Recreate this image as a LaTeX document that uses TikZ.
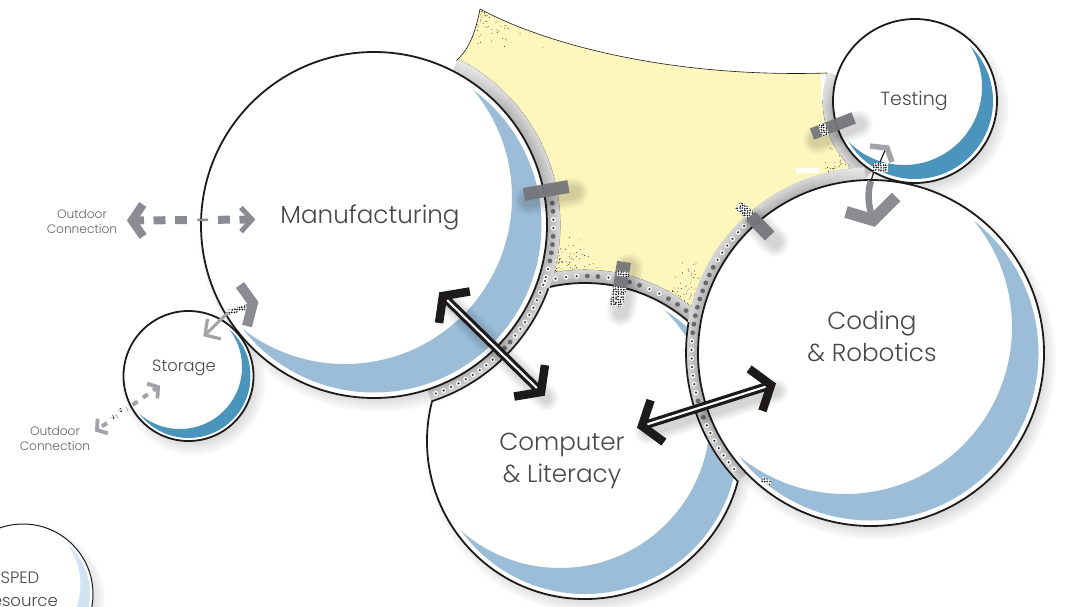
\documentclass[tikz,border=0pt]{standalone}
\usepackage{fontspec}
\setmainfont{Poppins}[UprightFont=* Light]
\usetikzlibrary{calc}
\definecolor{ink}{HTML}{1D1A1A}
\definecolor{labelc}{HTML}{484848}
\definecolor{yellowz}{HTML}{FDF6BD}
\definecolor{paleblue}{HTML}{9BBDD8}
\definecolor{deepblue}{HTML}{4B94BB}
\definecolor{iceblue}{HTML}{CFE3F3}
\definecolor{doorc}{HTML}{77777B}
\definecolor{arrowc}{HTML}{8B8C91}
\definecolor{arrowl}{HTML}{A3A3A7}
\definecolor{dotc}{HTML}{68686C}
\tikzset{
  room/.style={circle,draw=ink,line width=1.8pt,inner sep=0pt,outer sep=0pt,fill=none},
  doorline/.style={doorc,line width=13pt,opacity=.95},
  dbl/.style={ink,line width=3.2pt,double=white,double distance=2.1pt},
  chevink/.style={ink,line width=8.5pt,miter limit=10},
  chevgray/.style={arrowc,line width=8.5pt,miter limit=10},
  roomlabel/.style={text=labelc,font=\fontsize{24.6}{32}\selectfont,align=center,inner sep=0pt},
  tinylabel/.style={text=labelc!85,font=\fontsize{12.2}{15}\selectfont,align=center,inner sep=0pt},
}
\newcommand\softdisc[3]{\foreach \k in {1,...,9}{\fill[black,opacity=.014] (#1+5,#2+7) circle[radius=#3+\k*1.6-7];}}
\newcommand\softseg[3]{\foreach \k in {1,...,6}{\draw[black,opacity=.028,line width=#3+\k*3.2pt,line cap=round] ([shift={(5,6)}]#1) -- ([shift={(5,6)}]#2);}}
\newcommand\crescent[7]{\begin{scope}\clip (#1,#2) circle[radius=#3];\fill[#7,even odd rule] (-100,-100) rectangle (1200,800) (#4,#5) circle[radius=#6];\end{scope}}
% cx cy r-in r-out a1 a2
\newcommand\bandarc[6]{\foreach \k in {0,...,7}{
  \pgfmathsetmacro\rr{#3+(#4-#3)*(\k+.5)/8}
  \pgfmathsetmacro\gv{31-\k*2.1}
  \draw[line width=(#4-#3)/8+.5,draw=black!\gv] ($(#1,#2)+(#5:\rr)$) arc[start angle=#5,end angle=#6,radius=\rr];}}
\newcommand\bandfade[6]{\foreach \d in {3,6,...,18}{
  \pgfmathsetmacro\rr{(#3+#4)/2}
  \draw[white,opacity=.1,line width=(#4-#3)+.5] ($(#1,#2)+(#5:\rr)$) arc[start angle=#5,end angle=#5+#6*\d,radius=\rr];}}
\newcommand\edgearc[5]{\draw[ink,line width=1.7pt] ($(#1,#2)+(#4:#3)$) arc[start angle=#4,end angle=#5,radius=#3];}
\newcommand\dotmarks{\fill[dotc] (d) circle[radius=2.4];}
\newcommand\dotmarkw{\fill[white] (d) circle[radius=2.5];\fill[ink!85] (d) circle[radius=1.25];}
\newcommand\dotrow[6]{\foreach \t [count=\i from 0] in {#6}{
  \pgfmathsetmacro\ang{#4+\i*#5}
  \coordinate (d) at ($(#1,#2)+(\ang:#3)$);
  \csname dotmark\t\endcsname}}
\newcommand\chkseg[3]{\begin{scope}
  \clip ($(#1)!#3!90:(#2)$) -- ($(#1)!#3!-90:(#2)$) -- ($(#2)!#3!90:(#1)$) -- ($(#2)!#3!-90:(#1)$) -- cycle;
  \coordinate (cm) at ($(#1)!.5!(#2)$);
  \fill[white] ([shift={(-16,-16)}]cm) rectangle ([shift={(16,16)}]cm);
  \foreach \ox in {-15,-12.5,...,15}{\foreach \oy in {-15,-12.5,...,15}{
    \pgfmathsetmacro\jx{\ox+.9*rnd}\pgfmathsetmacro\jy{\oy+.9*rnd}
    \fill[ink] ([shift={(\jx,\jy)}]cm) circle[radius=.95];}}
  \end{scope}}
\newcommand\chevron[5]{\coordinate (cv) at ($(#2)!#3!(#1)$);
  \draw[#5] ($(cv)!#4!90:(#2)$) -- (#2) -- ($(cv)!#4!-90:(#2)$);}
\newcommand\stipple[6]{\pgfmathsetseed{#6}\foreach \q in {1,...,#5}{
  \pgfmathsetmacro\px{#1+(#3)*rnd*rnd}\pgfmathsetmacro\py{#2+(#4)*rnd*rnd}
  \fill[ink] (\px,\py) circle[radius=.42];}}
\newcommand\yellowpath{(480,9) .. controls (545,44) and (670,78) .. (827,73)
  -- ($(915,101)+(197.6:92)$) arc[start angle=197.6,end angle=131,radius=92]
  -- ($(871,353)+(265:185)$) arc[start angle=265,end angle=195,radius=185]
  -- ($(585,441)+(-51.8:171)$) arc[start angle=-51.8,end angle=-100.8,radius=171]
  -- ($(374,225)+(15:186)$) arc[start angle=15,end angle=-63,radius=186]
  -- (457,60) .. controls (470,48) and (476,30) .. (480,9) -- cycle}
\begin{document}
\begin{tikzpicture}[x=1pt,y=-1pt]
\useasboundingbox (0,0) rectangle (1076,606);
\clip (0,0) rectangle (1076,606);
\fill[white] (0,0) rectangle (1076,606);

% anchors for connectors
\coordinate (mcA) at (443,296);
\coordinate (mcB) at (541,392);
\coordinate (ccA) at (642,426);
\coordinate (ccB) at (771,385);
\coordinate (odL) at (132,220.5);
\coordinate (odR) at (252,219.5);
\coordinate (msA) at (253,303);
\coordinate (msB) at (205,335);
\coordinate (msC) at (228,312.5);
\coordinate (msD) at (250,306);
\coordinate (soA) at (158,387);
\coordinate (soB) at (97,430);
\coordinate (tcA) at (873,220);
\coordinate (tcB) at (886,148);

% computer room
\softdisc{585}{441}{158}
\fill[white] (585,441) circle[radius=158];
\crescent{585}{441}{153}{560}{418}{150}{paleblue}

% soft shadows
\softdisc{374}{225}{173}
\softdisc{871}{353}{173}
\softdisc{915}{101}{82}
\softdisc{188.5}{376}{65}
\softdisc{23}{594}{70}

% shared space
\fill[yellowz] \yellowpath;
\begin{scope}
  \clip \yellowpath;
  \stipple{477}{9}{70}{45}{70}{3}
  \stipple{552}{276}{60}{-45}{110}{5}
  \stipple{700}{308}{-65}{-50}{130}{7}
  \stipple{858}{173}{-40}{-45}{120}{9}
\end{scope}
\draw[ink,line width=.6pt] \yellowpath;
\fill[white] (796,168.3) rectangle (819,173);
\fill[white] (821,75) -- (826.5,74) -- (823.5,100) -- (821,100) -- cycle;

% corridors
\bandarc{585}{441}{158}{171}{-118}{-40}
\node[room,minimum size=316pt] (computer) at (585,441) {};
\bandarc{915}{101}{82}{92}{198}{122}
\bandfade{915}{101}{82}{92}{198}{-1.1}
\bandarc{374}{225}{173}{186}{-63}{72}
\bandfade{374}{225}{173}{186}{-63}{1.1}
\bandarc{871}{353}{173}{185.5}{136}{268}
\bandfade{871}{353}{173}{185.5}{268}{-.9}
\edgearc{374}{225}{185.5}{20}{72}
\edgearc{871}{353}{185}{189.6}{136}

% rooms
\fill[white] (374,225) circle[radius=173];
\crescent{374}{225}{167.5}{345}{197}{167}{paleblue}
\fill[white] (871,353) circle[radius=173];
\crescent{871}{353}{167.5}{845}{327}{167}{paleblue}
\fill[white] (915,101) circle[radius=82];
\crescent{915}{101}{78}{904}{87}{78}{deepblue}
\fill[white] (188.5,376) circle[radius=65];
\crescent{188.5}{376}{62}{180}{367}{62}{deepblue}
\fill[white] (23,594) circle[radius=70];
\crescent{23}{594}{67}{11.5}{584.5}{69}{iceblue}
\pgfmathsetseed{11}
\chkseg{762,479.5}{771,483}{2.6pt}

\node[room,minimum size=346pt] (manufacturing) at (374,225) {};
\node[room,minimum size=346pt] (coding) at (871,353) {};
\node[room,minimum size=164pt] (testing) at (915,101) {};
\node[room,minimum size=130pt] (storage) at (188.5,376) {};
\node[room,line width=1pt,minimum size=140pt] (sped) at (23,594) {};

% corridor dots
\dotrow{374}{225}{179.5}{-7}{2.65}{s,s,w,w,s,s,s,s,w,w,w,w,w,w,w,w,w,w,s,s,s,w,w,w,w,w,w,w,w,w}
\dotrow{871}{353}{179.5}{225}{-2.75}{w,w,w,w,w,w,s,s,s,s,s,s,s,s,s,w,w,w,w,w,w,w,s,w,s,w,w,w,w,w,w,w}
\dotrow{585}{441}{165}{-104}{3.7}{w,w,w,w,s,s,w,s,s,s,w,w,s,s,s}

% doors
\coordinate (d1a) at (524,194.5); \coordinate (d1b) at (568.5,186.5);
\coordinate (d2a) at (624,262); \coordinate (d2b) at (620,287); \coordinate (d2c) at (616,306);
\coordinate (d2e) at (623.5,271.5); \coordinate (d2f) at (622.7,276.5);
\coordinate (d3a) at (738.3,204.7); \coordinate (d3b) at (750.5,216); \coordinate (d3c) at (769.7,236);
\coordinate (d4a) at (812,134); \coordinate (d4b) at (853.7,118);
\coordinate (d4c) at (820,131); \coordinate (d4d) at (827,128.3);
\softseg{d1a}{d1b}{10pt}
\softseg{d2a}{d2c}{10pt}
\softseg{d3b}{d3c}{10pt}
\softseg{d4a}{d4b}{9pt}
\draw[doorline] (d1a) -- (d1b);
\chkseg{d2b}{d2c}{6.5pt}
\draw[doorline,line width=14pt] (d2a) -- (d2b);
\chkseg{d2e}{d2f}{6pt}
\chkseg{d3a}{d3b}{5pt}
\draw[doorline] (d3b) -- (d3c);
\draw[doorline,line width=12pt] (d4a) -- (d4b);
\chkseg{d4c}{d4d}{6pt}

% dark double arrows
\softseg{mcA}{mcB}{6pt}
\softseg{ccA}{ccB}{6pt}
\draw[dbl] (mcA) -- (mcB);
\draw[dbl] (ccA) -- (ccB);
\chevron{mcB}{mcA}{16pt}{22pt}{chevink}
\chevron{mcA}{mcB}{16pt}{22pt}{chevink}
\chevron{ccB}{ccA}{16pt}{22pt}{chevink}
\chevron{ccA}{ccB}{16pt}{22pt}{chevink}

% outdoor connection, manufacturing
\draw[arrowc,line width=8pt,dash pattern=on 12pt off 9.5pt on 12pt off 9.5pt on 12pt off 31pt on 12pt off 9.5pt on 12pt off 9.5pt] (odL) -- (odR);
\draw[arrowc,line width=2.5pt] ($(odL)!.545!(odR)$) -- ($(odL)!.635!(odR)$);
\chevron{odR}{odL}{11pt}{16pt}{chevgray}
\chevron{odL}{odR}{11pt}{12pt}{chevgray,line width=5pt}

% manufacturing to storage
\draw[arrowl,line width=3pt] (msB) -- (msC);
\chkseg{msC}{msD}{2.5pt}
\draw[chevgray,line width=10pt] (240,285) -- (msA) -- (247,326);
\chevron{msA}{msB}{11pt}{12pt}{arrowl,line width=3.2pt,miter limit=10}

% storage to outdoors
\draw[arrowl,line width=4pt,dash pattern=on 6pt off 6.5pt] (soA) -- (soB);
\fill[white] (123,411) circle[radius=4.5];
\fill[white] (113,419) circle[radius=4.5];
\chkseg{122,409.5}{119.5,411.5}{2pt}
\chkseg{114,416.5}{111.5,418.5}{2pt}
\chevron{soB}{soA}{7pt}{9pt}{arrowl,line width=3.8pt,miter limit=10}
\chevron{soA}{soB}{7pt}{9pt}{arrowl,line width=3.8pt,miter limit=10}

% testing to coding
\draw[arrowc,line width=6.5pt] (tcA) .. controls (868,205) and (867,192) .. (871,181);
\draw[ink,line width=1.2pt] (871,181) -- (874,171);
\draw[ink,line width=1.2pt] (880,162) -- (tcB);
\chkseg{873,167.3}{888,167.3}{4pt}
\draw[arrowc,line width=12pt,miter limit=10] (846,212) -- (tcA) -- (896,197);
\draw[arrowl,line width=5.5pt,miter limit=10] (870,146) -- (887,148) -- (892,162);

% labels
\node[roomlabel] (lmfg) at (370,217) {Manufacturing};
\node[roomlabel] (lcod) at (872,336.5) {Coding\\\& Robotics};
\node[roomlabel] (lcom) at (562,460.5) {Computer\\\& Literacy};
\node[roomlabel,font=\fontsize{19}{24}\selectfont] (ltes) at (914,101) {Testing};
\node[roomlabel,font=\fontsize{16.3}{20}\selectfont] (lsto) at (184,368) {Storage};
\node[tinylabel] (lod1) at (82,221.5) {Outdoor\\Connection};
\node[tinylabel] (lod2) at (55,438.5) {Outdoor\\Connection};
\node[roomlabel,font=\fontsize{16.5}{23}\selectfont] (lsped) at (20,589) {SPED\\Resource};
\end{tikzpicture}
\end{document}
